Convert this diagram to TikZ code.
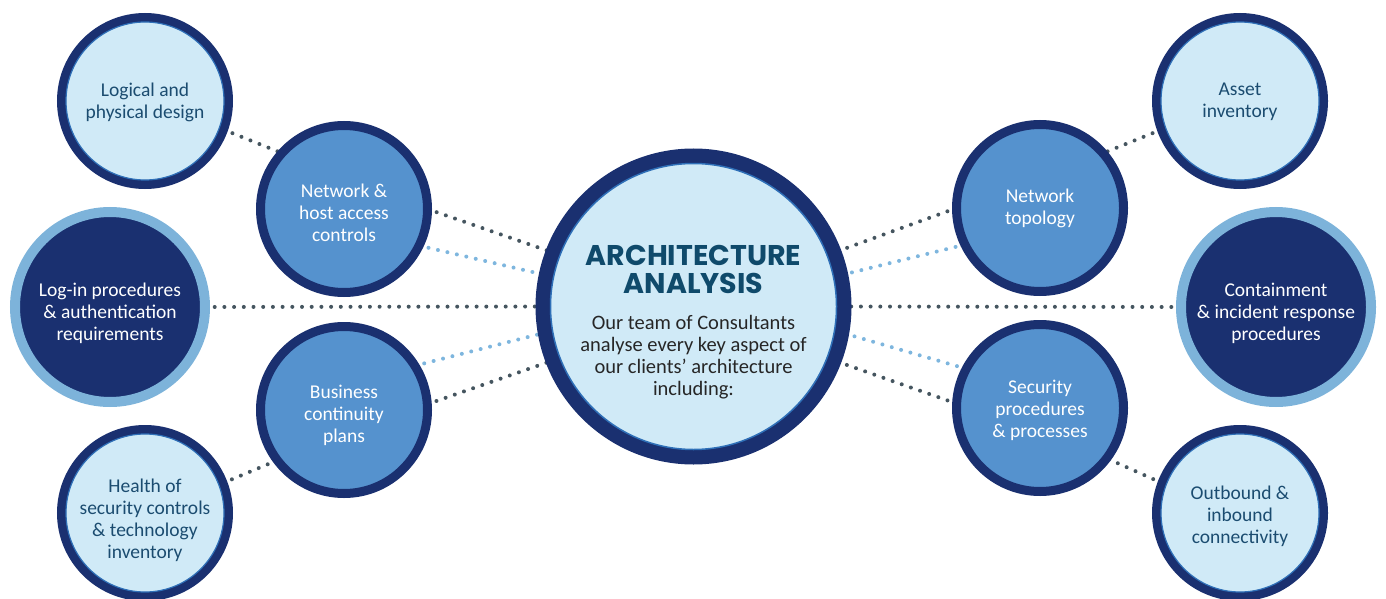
\documentclass[tikz,border=0pt]{standalone}
\usepackage{fontspec}
\setmainfont{Carlito}
\newfontfamily\titlefont{Poppins}
\usetikzlibrary{backgrounds}
\definecolor{navy}{HTML}{1A3070}
\definecolor{paleblue}{HTML}{D0EAF7}
\definecolor{midblue}{HTML}{5592CE}
\definecolor{ringblue}{HTML}{7DB3DA}
\definecolor{thinblue}{HTML}{2F70B8}
\definecolor{tealtext}{HTML}{1B4C70}
\definecolor{titleteal}{HTML}{0F4A6B}
\definecolor{dotdark}{HTML}{45555F}
\definecolor{dotlight}{HTML}{7EB6DE}
\definecolor{bodygray}{HTML}{262626}
\begin{document}
\begin{tikzpicture}[x=1pt,y=1pt,
  every node/.style={inner sep=0pt,outer sep=0pt,align=center},
  lbl/.style={font=\fontsize{19.5}{22}\selectfont},
  paletext/.style={lbl,text=tealtext},
  whitetext/.style={lbl,text=white},
  palecircle/.style={circle,draw=navy,line width=9pt,fill=paleblue,minimum size=167pt},
  midcircle/.style={circle,draw=navy,line width=9pt,fill=midblue,minimum size=167pt},
  darkcircle/.style={circle,draw=ringblue,line width=10pt,fill=navy,minimum size=190pt},
  maincircle/.style={circle,draw=navy,line width=15pt,fill=paleblue,minimum size=301pt},
  dotsdark/.style={draw=dotdark,line width=4pt,line cap=round,dash pattern=on 0pt off 9.7pt},
  dotslight/.style={draw=dotlight,line width=4pt,line cap=round,dash pattern=on 0pt off 9.7pt},
  innerline/.style={draw=thinblue,line width=1.2pt}
]
\useasboundingbox (0,0) rectangle (1386,-599);

% centre
\node[maincircle] (c) at (693.5,-306.5) {};
\draw[innerline,line width=1.5pt] (c.center) circle (143);
\node[font=\titlefont\bfseries\fontsize{28.5}{28}\selectfont,text=titleteal] (title) at (693.5,-269) {ARCHITECTURE\\ANALYSIS};
\node[font=\fontsize{20.5}{22}\selectfont,text=bodygray] (body) at (693.5,-357) {Our team of Consultants\\analyse every key aspect of\\our clients' architecture\\including:};

% left side
\node[palecircle] (lg) at (145,-101) {};
\draw[innerline] (lg.center) circle (79);
\node[paletext] (lgt) at ([yshift=-1pt]lg.center) {Logical and\\physical design};
\node[midcircle] (nh) at (344,-209) {};
\node[whitetext] (nht) at ([yshift=-4pt]nh.center) {Network \&\\host access\\controls};
\node[darkcircle] (li) at (110,-307) {};
\node[whitetext] (lit) at ([yshift=-6pt]li.center) {Log-in procedures\\\& authentication\\requirements};
\node[midcircle] (bc) at (344,-410) {};
\node[whitetext] (bct) at ([yshift=-5pt]bc.center) {Business\\continuity\\plans};
\node[palecircle] (hl) at (145,-513) {};
\draw[innerline] (hl.center) circle (79);
\node[paletext] (hlt) at ([yshift=-7pt]hl.center) {Health of\\security controls\\\& technology\\inventory};

% right side
\node[palecircle] (as) at (1240,-101) {};
\draw[innerline] (as.center) circle (79);
\node[paletext] (ast) at ([yshift=-1pt]as.center) {Asset\\inventory};
\node[midcircle] (nt) at (1040,-208) {};
\node[whitetext] (ntt) at (nt.center) {Network\\topology};
\node[darkcircle] (ct) at (1276,-307) {};
\node[whitetext] (ctt) at ([yshift=-6pt]ct.center) {Containment\\\& incident response\\procedures};
\node[midcircle] (sp) at (1040,-408) {};
\node[whitetext] (spt) at ([yshift=-2pt]sp.center) {Security\\procedures\\\& processes};
\node[palecircle] (ou) at (1240,-513) {};
\draw[innerline] (ou.center) circle (79);
\node[paletext] (out) at ([yshift=-3pt]ou.center) {Outbound \&\\inbound\\connectivity};

\begin{scope}[on background layer]
  \draw[dotsdark] (lg.-20) -- (nh.138.5);
  \draw[dotsdark] (nh.0) -- (c.159);
  \draw[dotslight] (nh.-26) -- (c.168);
  \draw[dotsdark] (li.0) -- (c.180);
  \draw[dotslight] (bc.32) -- (c.190);
  \draw[dotsdark] (bc.4) -- (c.201);
  \draw[dotsdark] (hl.21) -- (bc.217.5);
  \draw[dotsdark] (as.200) -- (nt.41.5);
  \draw[dotsdark] (nt.180) -- (c.21);
  \draw[dotslight] (nt.206) -- (c.12);
  \draw[dotsdark] (ct.180) -- (c.0);
  \draw[dotslight] (sp.152) -- (c.-10);
  \draw[dotsdark] (sp.177) -- (c.-21);
  \draw[dotsdark] (ou.159) -- (sp.-37.5);
\end{scope}
\end{tikzpicture}
\end{document}
